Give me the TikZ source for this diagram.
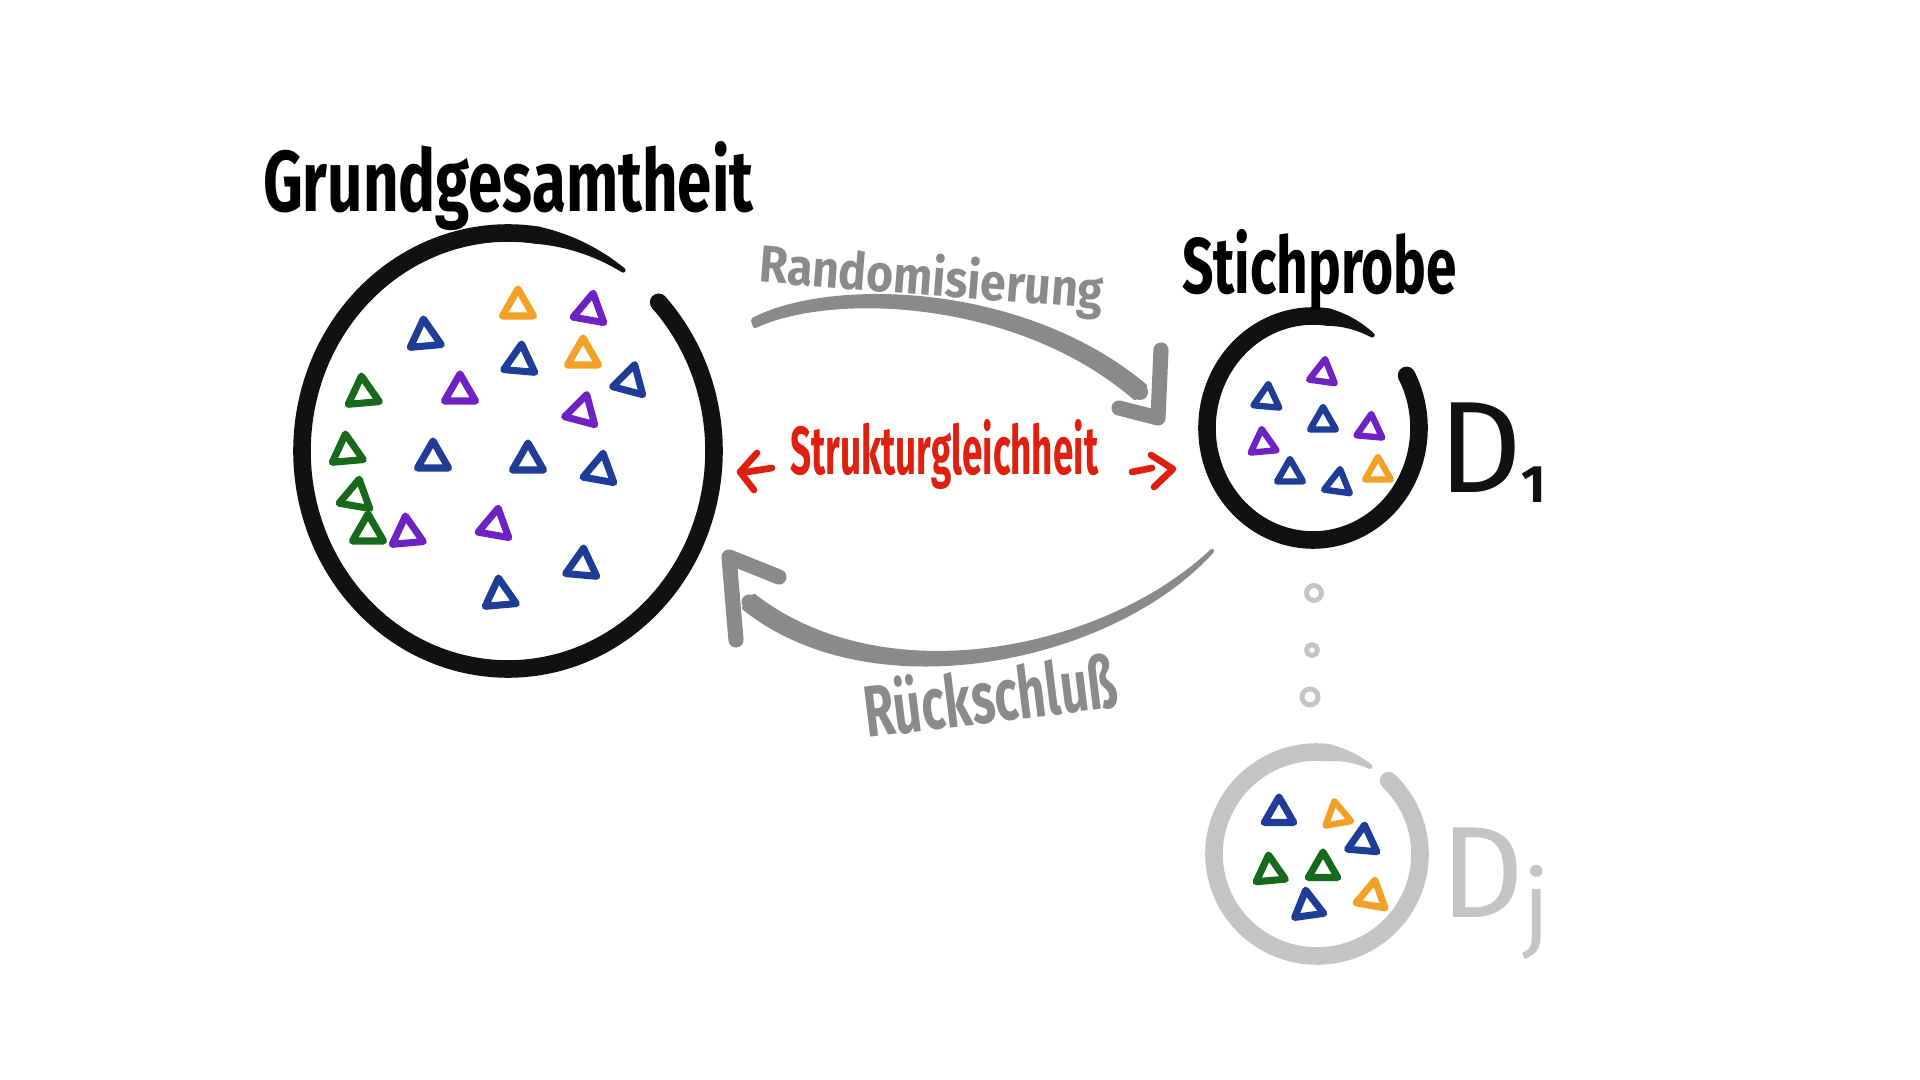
\documentclass[tikz,border=0pt]{standalone}
\usepackage{fontspec}
\setmainfont{Fira Sans}
\usetikzlibrary{shapes.geometric,calc}
\definecolor{tblue}{HTML}{1F3C96}
\definecolor{tpurple}{HTML}{6E22C4}
\definecolor{torange}{HTML}{F2A126}
\definecolor{tgreen}{HTML}{17691C}
\definecolor{agray}{HTML}{8A8A8A}
\definecolor{lgray}{HTML}{C4C4C4}
\definecolor{tred}{HTML}{E0200F}
\definecolor{ink}{HTML}{111111}
\newcommand{\handtxt}[3]{\resizebox{#1}{#2}{\bfseries #3}}
% tapered arc: #1 colour, #2 centre, #3 start, #4 end, #5 xr, #6 yr
\newcommand{\taperarc}[6]{%
  \pgfmathsetmacro{\ta}{#4-26}\pgfmathsetmacro{\tae}{#4-25.6}%
  \fill[#1] (#2) ++(#3:#5 and #6) circle[radius=8.8];
  \draw[draw=#1, line width=5pt, line cap=butt] (#2) ++(#3:#5 and #6) arc[start angle=#3, end angle=\tae, x radius=#5, y radius=#6];
  \fill[#1, shift={(#2)}] plot[domain=\ta:#4, samples=30] ({(#5+8.8-6.4*(\x-\ta)/26)*cos(\x)}, {(#6+8.8-6.4*(\x-\ta)/26)*sin(\x)}) -- plot[domain=#4:\ta, samples=30] ({(#5-8.8+6.4*(\x-\ta)/26)*cos(\x)}, {(#6-8.8+6.4*(\x-\ta)/26)*sin(\x)}) -- cycle;
  \fill[#1, shift={(#2)}] (#4:#5 and #6) circle[radius=2.4];}
\begin{document}
\begin{tikzpicture}[x=0.01cm,y=-0.01cm,
  tri/.style={draw=#1, regular polygon, regular polygon sides=3, minimum size=0.36cm, inner sep=0pt, line width=2pt, line join=round},
  stri/.style={tri=#1, minimum size=0.30cm, line width=1.8pt},
  gtri/.style={tri=#1, minimum size=0.34cm},
  holder/.style={ellipse, inner sep=0pt, draw=none},
  garrow/.style={draw=agray, line width=4.3pt, line cap=round, line join=round},
  gshaft/.style={fill=agray, draw=agray, line width=1.2pt, line join=round},
  rarrow/.style={draw=tred, line width=1.9pt, line cap=round, line join=round},
  lbl/.style={inner sep=0pt, outer sep=0pt},
  dotring/.style={circle, draw=lgray, line width=1.4pt, inner sep=0pt}
]
\useasboundingbox (0,0) rectangle (1920,1080);
\fill[white] (0,0) rectangle (1920,1080);

% ---- population circle
\node[holder, minimum width=4.12cm, minimum height=4.36cm] (pop) at (508,451) {};
\taperarc{ink}{pop.center}{-43}{304}{206}{218}

% ---- sample circle
\node[holder, minimum width=2.12cm, minimum height=2.24cm] (samp) at (1313,428) {};
\taperarc{ink}{samp.center}{-28}{304}{106}{112}

% ---- sample j circle
\node[holder, minimum width=2.06cm, minimum height=2.04cm] (sampj) at (1317,854) {};
\taperarc{lgray}{sampj.center}{-46}{301}{103}{102}

% ---- triangles in population
\node[tri=torange] (p1) at (518,307) {};
\node[tri=tpurple, rotate=-10] (p2) at (590,311) {};
\node[tri=tblue, rotate=5] (p3) at (425,337) {};
\node[tri=tblue, rotate=-5] (p4) at (520,362) {};
\node[tri=torange] (p5) at (583,356) {};
\node[tri=tblue, rotate=-15] (p6) at (630,382) {};
\node[tri=tgreen, rotate=5] (p7) at (363,394) {};
\node[tri=tpurple] (p8) at (460,392) {};
\node[tri=tpurple, rotate=-15] (p9) at (582,412) {};
\node[tri=tgreen, rotate=5] (p10) at (347,452) {};
\node[tri=tblue] (p11) at (433,459) {};
\node[tri=tblue] (p12) at (528,461) {};
\node[tri=tblue, rotate=-10] (p13) at (600,471) {};
\node[tri=tgreen, rotate=-10] (p14) at (356,497) {};
\node[tri=tgreen] (p15) at (368,532) {};
\node[tri=tpurple, rotate=5] (p16) at (407,534) {};
\node[tri=tpurple, rotate=-10] (p17) at (495,526) {};
\node[tri=tblue, rotate=-5] (p18) at (582,566) {};
\node[tri=tblue, rotate=5] (p19) at (500,596) {};

% ---- triangles in sample 1
\node[stri=tpurple, rotate=-8] (s1) at (1323,374) {};
\node[stri=tblue, rotate=-5] (s2) at (1267,399) {};
\node[stri=tblue] (s3) at (1323,422) {};
\node[stri=tpurple, rotate=-5] (s4) at (1370,429) {};
\node[stri=tpurple, rotate=5] (s5) at (1263,444) {};
\node[stri=tblue] (s6) at (1290,474) {};
\node[stri=tblue, rotate=-8] (s7) at (1338,484) {};
\node[stri=torange] (s8) at (1378,472) {};

% ---- triangles in sample j
\node[gtri=tblue] (j1) at (1279,814) {};
\node[stri=torange, rotate=10] (j2) at (1337,816) {};
\node[gtri=tblue, rotate=-5] (j3) at (1363,842) {};
\node[gtri=tgreen, rotate=5] (j4) at (1270,872) {};
\node[gtri=tgreen] (j5) at (1323,869) {};
\node[gtri=tblue, rotate=8] (j6) at (1308,907) {};
\node[gtri=torange, rotate=-10] (j7) at (1372,897) {};

% ---- dots
\node[dotring, minimum size=0.15cm] (dot1) at (1314,593) {};
\node[dotring, minimum size=0.11cm] (dot2) at (1312,650) {};
\node[dotring, minimum size=0.16cm] (dot3) at (1310,697) {};

% ---- labels
\node[lbl, anchor=base west] (tgg) at (263,212) {\handtxt{4.9cm}{0.7cm}{Grundgesamtheit}};
\node[lbl, anchor=base west] (tsp) at (1182,294) {\handtxt{2.75cm}{0.64cm}{Stichprobe}};
\node[lbl, anchor=base west, rotate=-4.5, text=agray] (trand) at (758,282) {\handtxt{3.45cm}{0.42cm}{Randomisierung}};
\node[lbl, anchor=base west, text=tred] (tstr) at (790,475) {\handtxt{3.08cm}{0.55cm}{Strukturgleichheit}};
\node[lbl, anchor=base west, rotate=7, text=agray] (truck) at (867,738) {\handtxt{2.55cm}{0.58cm}{Rückschluß}};
\node[lbl, anchor=base west, text=ink] (d1) at (1438,493) {\fontsize{37pt}{37pt}\selectfont D\fontsize{15pt}{15pt}\selectfont\raisebox{-2.8pt}{\bfseries 1}};
\node[lbl, anchor=base west, text=lgray] (dj) at (1440,918) {\fontsize{37pt}{37pt}\selectfont D\fontsize{27pt}{27pt}\selectfont\raisebox{-6pt}{j}};

% ---- top arrow (Randomisierung), tapering from its start
\coordinate (rs) at (754,323);
\coordinate (re) at (1140,392);
\coordinate (rt) at (1158,418);
\coordinate (rh1) at (1161,350);
\coordinate (rh2) at (1119,408);
\path[gshaft] (753,320) .. controls (828,280) and (1022,283) .. (1145,386) -- (1135,398) .. controls (1018,297) and (832,290) .. (755,326) -- cycle;
\fill[agray] (re) circle[radius=8];
\draw[garrow] (rh1) -- (rt) -- (rh2);

% ---- bottom arrow (Rueckschluss), tapering from its start
\coordinate (bs) at (1212,551);
\coordinate (be) at (749,602);
\coordinate (bt) at (729,557);
\coordinate (bh1) at (736,640);
\coordinate (bh2) at (779,577);
\path[gshaft] (bs) .. controls (1114,660) and (874,712) .. (744,608) -- (754,596) .. controls (886,698) and (1106,651) .. (bs) -- cycle;
\fill[agray] (be) circle[radius=7.5];
\draw[garrow] (bh1) -- (bt) -- (bh2);

% ---- red arrows
\coordinate (la0) at (772,468);
\coordinate (la1) at (747,472);
\coordinate (lc1) at (757,453);
\coordinate (lc2) at (740,472);
\coordinate (lc3) at (754,490);
\draw[rarrow] (la0) -- (la1);
\draw[rarrow] (lc1) -- (lc2) -- (lc3);
\coordinate (ra0) at (1132,472);
\coordinate (ra1) at (1152,468);
\coordinate (rc1) at (1151,455);
\coordinate (rc2) at (1173,469);
\coordinate (rc3) at (1154,487);
\draw[rarrow] (ra0) -- (ra1);
\draw[rarrow] (rc1) -- (rc2) -- (rc3);
\end{tikzpicture}
\end{document}
